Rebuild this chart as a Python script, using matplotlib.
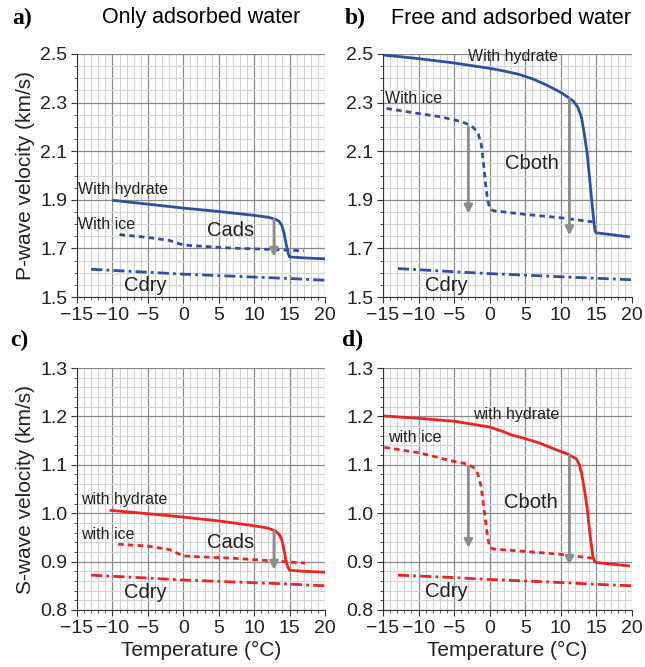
import matplotlib.pyplot as plt
from matplotlib.ticker import MultipleLocator, FixedLocator

plt.rcParams['font.family'] = ['Liberation Sans', 'DejaVu Sans']

BLUE = '#2f4fa3'
RED = '#ee2222'
GRAY = '#8c8c8c'

# --- panel a: P-wave, only adsorbed water
a_hyd_T = [-10, -5, 0, 5, 10, 12, 13, 13.5, 13.9, 14.2, 14.5, 14.8, 15.0, 17, 20]
a_hyd_V = [1.898, 1.882, 1.866, 1.852, 1.836, 1.828, 1.820, 1.812, 1.795, 1.765, 1.720, 1.680, 1.665, 1.661, 1.657]
a_ice_T = [-9, -5, -2, 0, 2, 7, 12, 17]
a_ice_V = [1.757, 1.745, 1.733, 1.714, 1.710, 1.701, 1.696, 1.690]
a_dry_T = [-13, -5, 0, 5, 10, 15, 20]
a_dry_V = [1.614, 1.602, 1.594, 1.588, 1.582, 1.576, 1.569]

# --- panel b: P-wave, free and adsorbed water
b_hyd_T = [-15, -10, -5, 0, 2, 4, 6, 8, 10, 11, 11.8, 12.4, 12.9, 13.3, 13.7, 14.1, 14.5, 14.8, 15, 17, 19.7]
b_hyd_V = [2.496, 2.481, 2.463, 2.441, 2.430, 2.417, 2.398, 2.372, 2.342, 2.322, 2.305, 2.280, 2.240, 2.170, 2.090, 1.970, 1.850, 1.770, 1.764, 1.757, 1.747]
b_ice_T = [-14.5, -10, -7, -4, -3, -2.2, -1.6, -1.2, -0.9, -0.6, -0.3, 0, 0.5, 5, 10, 14.5]
b_ice_V = [2.276, 2.255, 2.242, 2.222, 2.210, 2.195, 2.170, 2.130, 2.060, 1.970, 1.900, 1.865, 1.855, 1.840, 1.826, 1.809]
b_dry_T = [-12.9, -5, 0, 5, 11, 15, 20]
b_dry_V = [1.617, 1.604, 1.596, 1.590, 1.582, 1.577, 1.571]

# --- panel c: S-wave, only adsorbed water
c_hyd_T = [-10.4, -5, 0, 5, 10, 12, 13, 13.5, 13.9, 14.2, 14.5, 14.8, 15.0, 17, 20]
c_hyd_V = [1.006, 0.999, 0.992, 0.984, 0.974, 0.969, 0.963, 0.957, 0.945, 0.925, 0.902, 0.887, 0.882, 0.880, 0.878]
c_ice_T = [-9.2, -5, -2, 0, 2, 7, 12, 17.2]
c_ice_V = [0.936, 0.932, 0.925, 0.912, 0.910, 0.907, 0.902, 0.897]
c_dry_T = [-13, -5, 0, 5, 12.7, 20]
c_dry_V = [0.872, 0.866, 0.862, 0.859, 0.855, 0.850]

# --- panel d: S-wave, free and adsorbed water
d_hyd_T = [-15, -10, -5, 0, 2, 3, 5, 7, 9, 11, 12.2, 12.6, 12.9, 13.3, 13.7, 14.1, 14.5, 14.8, 15, 17, 19.7]
d_hyd_V = [1.201, 1.196, 1.190, 1.178, 1.168, 1.162, 1.154, 1.145, 1.133, 1.122, 1.112, 1.100, 1.083, 1.050, 1.010, 0.955, 0.910, 0.899, 0.898, 0.895, 0.891]
d_ice_T = [-14.8, -10, -5, -3.3, -2.3, -1.7, -1.2, -0.9, -0.6, -0.3, 0, 0.5, 5, 10, 14.5]
d_ice_V = [1.136, 1.125, 1.107, 1.102, 1.095, 1.082, 1.055, 1.020, 0.985, 0.950, 0.930, 0.926, 0.921, 0.915, 0.907]
d_dry_T = [-12.9, -5, 0, 5, 11.2, 15, 20]
d_dry_V = [0.872, 0.867, 0.863, 0.860, 0.856, 0.853, 0.850]

# arrows: (T, from V, to V)
a_arrows = [(12.8, 1.820, 1.665)]
b_arrows = [(-3.0, 2.200, 1.843), (11.2, 2.318, 1.754)]
c_arrows = [(12.8, 0.962, 0.883)]
d_arrows = [(-3.0, 1.097, 0.928), (11.2, 1.120, 0.893)]

p_ticks = [1.5, 1.7, 1.9, 2.1, 2.3, 2.5]
s_ticks = [0.8, 0.9, 1.0, 1.1, 1.2, 1.3]
t_ticks = [-15, -10, -5, 0, 5, 10, 15, 20]

fig = plt.figure(figsize=(6.45, 6.67), dpi=100)
W, H = 645, 667


def make_axes(x0, x1, ytop, ybot):
    return fig.add_axes([x0 / W, 1 - ybot / H, (x1 - x0) / W, (ybot - ytop) / H])


def style(ax, yticks, ymin, ylabel=None, xlabel=None):
    ax.set_xlim(-15, 20)
    ax.set_ylim(yticks[0], yticks[-1])
    ax.xaxis.set_major_locator(FixedLocator(t_ticks))
    ax.xaxis.set_minor_locator(MultipleLocator(1))
    ax.yaxis.set_major_locator(FixedLocator(yticks))
    ax.yaxis.set_minor_locator(MultipleLocator(ymin))
    ax.yaxis.set_major_formatter(plt.FormatStrFormatter('%.1f'))
    ax.grid(which='minor', color='#d4d4d4', lw=0.8)
    ax.grid(which='major', color='#8a8a8a', lw=0.9)
    ax.set_axisbelow(True)
    for s in ['top', 'right']:
        ax.spines[s].set_visible(False)
    for s in ['left', 'bottom']:
        ax.spines[s].set_color('#333333')
    ax.tick_params(which='major', length=4, labelsize=14, pad=3,
                   color='#333333', labelcolor='#222222')
    ax.tick_params(which='minor', length=2, color='#333333')
    if ylabel:
        ax.set_ylabel(ylabel, fontsize=15, labelpad=4, color='#222222')
    if xlabel:
        ax.set_xlabel(xlabel, fontsize=15, labelpad=3, color='#222222')


def draw(ax, color, hyd, ice, dry, arrows):
    ax.plot(dry[0], dry[1], color=color, lw=2, ls=(0, (4, 1.5, 1, 1.5)))
    ax.plot(ice[0], ice[1], color=color, lw=2, ls=(0, (2, 1.5)))
    ax.plot(hyd[0], hyd[1], color=color, lw=2, solid_capstyle='butt')
    for t, v0, v1 in arrows:
        ax.annotate('', xy=(t, v1), xytext=(t, v0),
                    arrowprops=dict(arrowstyle='-|>', color=GRAY, lw=2,
                                    mutation_scale=12, shrinkA=0, shrinkB=0))


axa = make_axes(77, 325, 54, 297)
axb = make_axes(383, 632, 54, 297)
axc = make_axes(77, 325, 368, 610)
axd = make_axes(383, 632, 368, 610)

style(axa, p_ticks, 0.05, ylabel='P-wave velocity (km/s)')
style(axb, p_ticks, 0.05)
style(axc, s_ticks, 0.02, ylabel='S-wave velocity (km/s)', xlabel='Temperature (°C)')
style(axd, s_ticks, 0.02, xlabel='Temperature (°C)')

draw(axa, BLUE, (a_hyd_T, a_hyd_V), (a_ice_T, a_ice_V), (a_dry_T, a_dry_V), a_arrows)
draw(axb, BLUE, (b_hyd_T, b_hyd_V), (b_ice_T, b_ice_V), (b_dry_T, b_dry_V), b_arrows)
draw(axc, RED, (c_hyd_T, c_hyd_V), (c_ice_T, c_ice_V), (c_dry_T, c_dry_V), c_arrows)
draw(axd, RED, (d_hyd_T, d_hyd_V), (d_ice_T, d_ice_V), (d_dry_T, d_dry_V), d_arrows)

small = dict(fontsize=11.5, va='center', ha='left', color='#222222')
big = dict(fontsize=14.5, va='center', ha='left', color='#222222')

axa.text(-14.8, 1.942, 'With hydrate', **small)
axa.text(-14.8, 1.800, 'With ice', **small)
axa.text(3.3, 1.775, 'Cads', **big)
axa.text(-8.3, 1.548, 'Cdry', **big)

axb.text(-3.1, 2.489, 'With hydrate', **small)
axb.text(-14.7, 2.317, 'With ice', **small)
axb.text(2.1, 2.050, 'Cboth', **big)
axb.text(-9.1, 1.548, 'Cdry', **big)

axc.text(-14.4, 1.029, 'with hydrate', **small)
axc.text(-14.4, 0.957, 'with ice', **small)
axc.text(3.3, 0.939, 'Cads', **big)
axc.text(-8.3, 0.836, 'Cdry', **big)

axd.text(-2.4, 1.203, 'with hydrate', **small)
axd.text(-14.3, 1.157, 'with ice', **small)
axd.text(2.0, 1.022, 'Cboth', **big)
axd.text(-9.1, 0.838, 'Cdry', **big)

serif = ['Liberation Serif', 'DejaVu Serif']
fig.text(12 / W, 1 - 18 / H, 'a)', fontsize=17, fontweight='bold', family=serif, va='center')
fig.text(345 / W, 1 - 18 / H, 'b)', fontsize=17, fontweight='bold', family=serif, va='center')
fig.text(10 / W, 1 - 340 / H, 'c)', fontsize=17, fontweight='bold', family=serif, va='center')
fig.text(342 / W, 1 - 340 / H, 'd)', fontsize=17, fontweight='bold', family=serif, va='center')
fig.text(201 / W, 1 - 18 / H, 'Only adsorbed water', fontsize=15.5, ha='center', va='center')
fig.text(511 / W, 1 - 18 / H, 'Free and adsorbed water', fontsize=15.5, ha='center', va='center')

fig.savefig('out.png', dpi=100)
